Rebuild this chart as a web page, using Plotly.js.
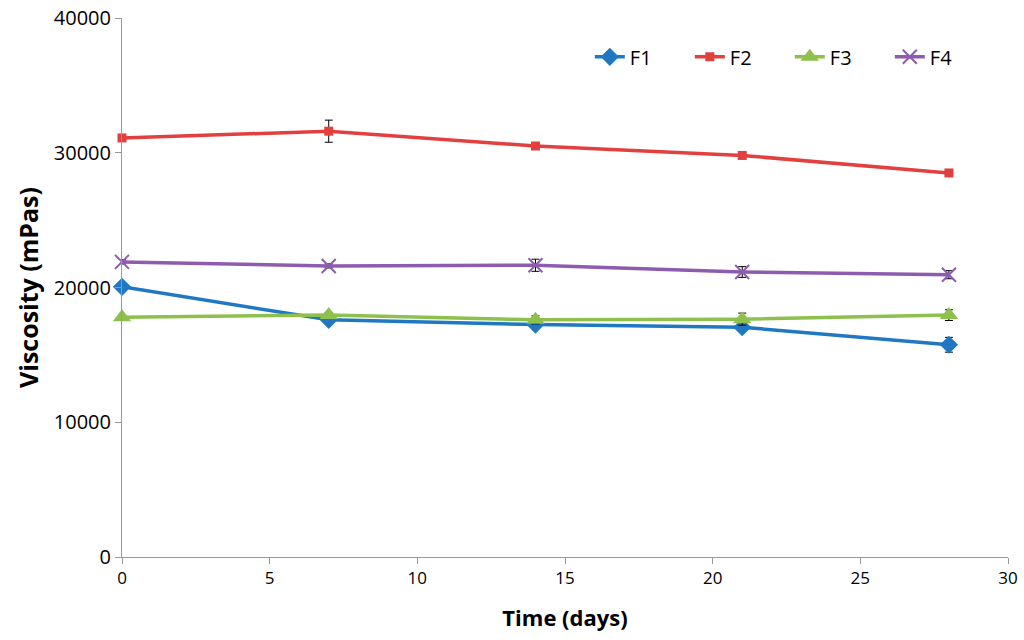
<!DOCTYPE html>
<html>
<head>
<meta charset="utf-8">
<script src="https://cdn.plot.ly/plotly-3.0.1.min.js"></script>
<style>html,body{margin:0;padding:0;background:#fff}#chart{width:1024px;height:640px}</style>
</head>
<body>
<div id="chart"></div>
<script>
const days = [0, 7, 14, 21, 28];
const seriesNames = ["F1", "F2", "F3", "F4"];
const f1 = [20050, 17600, 17250, 17050, 15750];
const f2 = [31100, 31600, 30500, 29800, 28500];
const f3 = [17800, 17950, 17600, 17650, 17950];
const f4 = [21900, 21600, 21650, 21150, 20950];
const f1Err = [150, 150, 200, 200, 550];
const f2Err = [150, 820, 200, 200, 150];
const f3Err = [150, 200, 300, 450, 400];
const f4Err = [150, 150, 450, 400, 300];
const xTicks = [0, 5, 10, 15, 20, 25, 30];
const yTicks = [0, 10000, 20000, 30000, 40000];
const yTickText = ["0", "10000", "20000", "30000", "40000"];

const colors = ["#1F78C1", "#E2403F", "#8DC04C", "#8E5CAE"];
const symbols = ["diamond", "square", "triangle-up", "x-thin-open"];
const sizes = [14, 9, 16, 14];
const vals = [f1, f2, f3, f4];
const errs = [f1Err, f2Err, f3Err, f4Err];

const traces = vals.map((v, i) => ({
  x: days, y: v, name: seriesNames[i], type: "scatter", mode: "lines+markers",
  cliponaxis: false,
  line: {color: colors[i], width: 3.5},
  marker: {symbol: symbols[i], size: sizes[i], color: colors[i],
           line: {color: colors[i], width: i === 3 ? 2 : 0}},
  error_y: {type: "data", array: errs[i], visible: true, color: "#000", thickness: 1, width: 4}
}));

const layout = {
  width: 1024, height: 640,
  margin: {l: 122, r: 16, t: 18, b: 83},
  paper_bgcolor: "#fff", plot_bgcolor: "#fff",
  font: {family: "Open Sans, sans-serif", color: "#000", size: 17},
  showlegend: true,
  legend: {orientation: "h", x: 0.528, y: 0.928, xanchor: "left", yanchor: "middle",
           font: {size: 20, family: "Open Sans, sans-serif"}, bgcolor: "rgba(0,0,0,0)",
           entrywidth: 55, entrywidthmode: "pixels", tracegroupgap: 0},
  xaxis: {range: [0, 30], tickvals: xTicks, ticks: "outside", ticklen: 6, tickcolor: "#999",
          showline: true, linecolor: "#999", linewidth: 1, showgrid: false, zeroline: false,
          tickfont: {size: 17}, title: {text: "<b>Time (days)</b>", font: {size: 22}, standoff: 22}},
  yaxis: {range: [0, 40000], tickvals: yTicks, ticktext: yTickText, ticks: "outside", ticklen: 6, tickcolor: "#999",
          showline: true, linecolor: "#999", linewidth: 1, showgrid: false, zeroline: false,
          tickfont: {size: 20}, title: {text: "<b>Viscosity (mPas)</b>", font: {size: 25}, standoff: 8}}
};

Plotly.newPlot("chart", traces, layout, {displayModeBar: false, staticPlot: true});
</script>
</body>
</html>
